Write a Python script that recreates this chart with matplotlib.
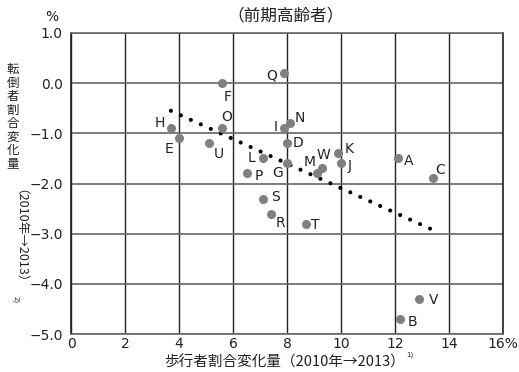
import matplotlib
matplotlib.use("Agg")
import matplotlib.pyplot as plt

# ---- data ----
labels = ["A", "B", "C", "D", "E", "F", "G", "H", "I", "J", "K", "L",
          "M", "N", "O", "P", "Q", "R", "S", "T", "U", "V", "W"]
x_vals = [12.1, 12.2, 13.4, 8.0, 4.0, 5.6, 8.0, 3.7, 7.9, 10.0, 9.9, 7.1,
          9.1, 8.1, 5.6, 6.5, 7.9, 7.4, 7.1, 8.7, 5.1, 12.9, 9.3]
y_vals = [-1.5, -4.7, -1.9, -1.2, -1.1, 0.0, -1.6, -0.9, -0.9, -1.6, -1.4, -1.5,
          -1.8, -0.8, -0.9, -1.8, 0.2, -2.6, -2.3, -2.8, -1.2, -4.3, -1.7]
trend_x = [3.7, 13.3]
trend_y = [-0.55, -2.9]
x_ticks = [0, 2, 4, 6, 8, 10, 12, 14, 16]
x_tick_labels = ["0", "2", "4", "6", "8", "10", "12", "14", "16%"]
y_ticks = [1.0, 0.0, -1.0, -2.0, -3.0, -4.0, -5.0]
y_tick_labels = ["1.0", "0.0", "\u22121.0", "\u22122.0", "\u22123.0", "\u22124.0", "\u22125.0"]
title = "（前期高齢者）"
xlabel = "歩行者割合変化量（2010年→2013）"
xlabel_note = "1)"
ylabel_upright = "転倒者割合変化量"
ylabel_rot = "（2010年→2013）"
ylabel_note = "2)"

# label offsets (points) relative to each point: style only
offsets = {
    "A": (8, -2), "B": (9, -2), "C": (5, 6), "D": (8, 0), "E": (-7, -8),
    "F": (4, -10), "G": (-7, -7), "H": (-8, 4), "I": (-6, 1), "J": (6, -2),
    "K": (8, 3), "L": (-8, 0), "M": (-5, 8), "N": (7, 4), "O": (3, 8),
    "P": (9, -2), "Q": (-9, -2), "R": (7, -7), "S": (9, 1), "T": (7, -1),
    "U": (7, -8), "V": (10, -1), "W": (1, 10),
}

LAT = ["DejaVu Sans", "Noto Sans CJK JP"]
CJK = ["Noto Sans CJK JP", "DejaVu Sans"]
TXT = "#222222"
W, H = 519, 372

fig = plt.figure(figsize=(W / 100, H / 100), dpi=100)
ax = fig.add_axes([71 / W, 1 - 334 / H, (503 - 71) / W, (334 - 33) / H])

ax.set_xlim(0, 16)
ax.set_ylim(-5, 1)

for xv in x_ticks:
    ax.axvline(xv, color="#222222", lw=1.0, zorder=1)
for yv in y_ticks:
    ax.axhline(yv, color="#666666", lw=1.2, zorder=1)

for side in ["left", "right"]:
    ax.spines[side].set_color("#222222")
for side in ["top", "bottom"]:
    ax.spines[side].set_color("#666666")
for s in ax.spines.values():
    s.set_linewidth(1.2)

ax.plot(trend_x, trend_y, color="black", lw=3.0,
        linestyle=(0, (0.001, 2.627)), dash_capstyle="round", zorder=2)

ax.plot(x_vals, y_vals, "o", color="#808080", markersize=6.5,
        markeredgewidth=0, zorder=3)

for lab, xv, yv in zip(labels, x_vals, y_vals):
    dx, dy = offsets[lab]
    ax.annotate(lab, (xv, yv), xytext=(dx, dy), textcoords="offset points",
                ha="center", va="center", fontsize=10, color=TXT,
                family=LAT, zorder=4)

ax.set_xticks(x_ticks)
ax.set_xticklabels(x_tick_labels, family=LAT, fontsize=10, color=TXT)
ax.set_yticks(y_ticks)
ax.set_yticklabels(y_tick_labels, family=LAT, fontsize=10, color=TXT)
ax.tick_params(length=0)
ax.tick_params(axis="y", pad=6)
ax.tick_params(axis="x", pad=2)

fig.text(52 / W, 1 - 17 / H, "%", ha="center", va="center",
         fontsize=10, color=TXT, family=LAT)
fig.text(286 / W, 1 - 16 / H, title, ha="center", va="center",
         fontsize=12, color=TXT, family=CJK)

# y label: upright stacked chars (one per row) then rotated part
n = len(ylabel_upright)
y0, y1 = 70, 164
for i, ch in enumerate(ylabel_upright):
    yy = y0 + (y1 - y0) * i / (n - 1)
    fig.text(13 / W, 1 - yy / H, ch, ha="center", va="center",
             fontsize=9, color=TXT, family=CJK)
yrot = fig.text(13 / W, 1 - 189 / H, ylabel_rot, ha="center", va="top",
                rotation=-90, fontsize=9.1, color=TXT, family=CJK)

# x label
xl = fig.text(164 / W, 1 - 362 / H, xlabel, ha="left", va="center",
              fontsize=10.5, color=TXT, family=CJK)

fig.canvas.draw()
r = fig.canvas.get_renderer()
bx = xl.get_window_extent(r)
fig.text((bx.x1 + 1) / W, 1 - 355 / H, xlabel_note, ha="left", va="center",
         fontsize=5, color=TXT, family=LAT)
by = yrot.get_window_extent(r)
fig.text(16 / W, (by.y0 - 1) / H, ylabel_note, ha="center", va="top",
         rotation=-90, fontsize=5, color=TXT, family=LAT)

fig.savefig("out.png", dpi=100)
